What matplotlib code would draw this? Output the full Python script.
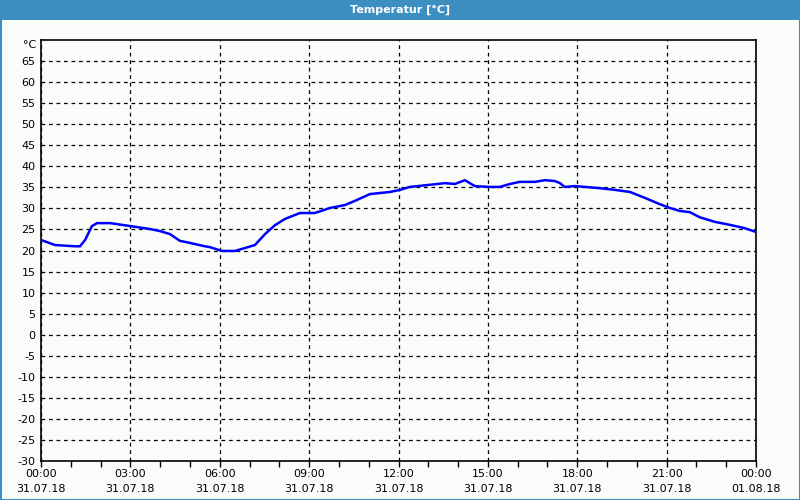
import matplotlib
matplotlib.use("Agg")
import matplotlib.pyplot as plt
from matplotlib.patches import Rectangle

# Data: hours since 31.07.18 00:00, temperature in °C
hours = [0.0, 0.47, 1.14, 1.31, 1.48, 1.71, 1.88, 2.32, 3.0, 3.66, 4.0, 4.33,
         4.66, 5.0, 5.5, 5.67, 6.07, 6.51, 6.85, 7.18, 7.52, 7.85, 8.19, 8.69,
         9.19, 9.70, 10.2, 10.54, 11.04, 11.71, 12.05, 12.38, 13.05, 13.56,
         13.89, 14.23, 14.56, 15.07, 15.40, 15.74, 16.07, 16.58, 16.91, 17.25,
         17.42, 17.58, 17.92, 18.26, 18.76, 19.26, 19.77, 20.27, 20.77, 21.11,
         21.44, 21.78, 22.11, 22.62, 23.12, 23.62, 23.96]
temps = [22.5, 21.3, 21.0, 21.0, 22.5, 25.8, 26.5, 26.5, 25.8, 25.1, 24.6, 23.9,
         22.3, 21.8, 21.0, 20.8, 19.9, 19.9, 20.6, 21.3, 23.9, 26.0, 27.5, 28.9,
         28.9, 30.1, 30.8, 31.8, 33.4, 33.9, 34.4, 35.1, 35.6, 36.0,
         35.8, 36.7, 35.3, 35.1, 35.1, 35.8, 36.3, 36.3, 36.7, 36.5,
         36.0, 35.1, 35.3, 35.1, 34.8, 34.4, 33.9, 32.5, 31.0, 30.1,
         29.4, 29.1, 27.9, 26.8, 26.1, 25.3, 24.5]

x_ticks = [0, 3, 6, 9, 12, 15, 18, 21, 24]
x_labels = ["00:00\n31.07.18", "03:00\n31.07.18", "06:00\n31.07.18",
            "09:00\n31.07.18", "12:00\n31.07.18", "15:00\n31.07.18",
            "18:00\n31.07.18", "21:00\n31.07.18", "00:00\n01.08.18"]
y_ticks = list(range(-30, 70, 5))
title = "Temperatur [°C]"
unit = "°C"

bg = "#fafcfa"
bar = "#3d8fc2"

fig = plt.figure(figsize=(8, 5), dpi=100, facecolor=bg)
W, H = 800, 500

# title bar and frame
fig.patches.append(Rectangle((0, 1 - 20 / H), 1, 20 / H, transform=fig.transFigure,
                             facecolor=bar, edgecolor="none", zorder=0))
fig.patches.append(Rectangle((0.5 / W, 0.5 / H), 1 - 1 / W, 1 - 1 / H,
                             transform=fig.transFigure, facecolor="none",
                             edgecolor=bar, linewidth=1.5, zorder=1))
fig.text(0.5, 1 - 10 / H, title, color="white", fontsize=8, fontweight="bold",
         ha="center", va="center")

left, right, top, bottom = 41, 756, 40, 461
ax = fig.add_axes([left / W, 1 - bottom / H, (right - left) / W, (bottom - top) / H])
ax.set_facecolor(bg)
ax.set_xlim(0, 24)
ax.set_ylim(-30, 70)

ax.plot(hours, temps, color="#0000ff", linewidth=1.8, solid_joinstyle="miter", zorder=3)

ax.set_yticks(y_ticks)
ax.set_yticklabels([str(v) for v in y_ticks], fontsize=8)
ax.set_xticks(x_ticks)
ax.set_xticklabels(x_labels, fontsize=8, linespacing=1.55)
ax.set_xticks(range(0, 25), minor=True)

ax.tick_params(axis="y", length=0, pad=4)
ax.tick_params(axis="x", which="both", direction="out", length=4, width=1, pad=2)
ax.grid(True, which="major", color="black", linestyle=(0, (3, 3)), linewidth=0.9)

for s in ax.spines.values():
    s.set_color("black")
    s.set_linewidth(1.2)

ax.text(-0.15, 68.8, unit, transform=ax.transData, ha="right", va="center", fontsize=8)

fig.savefig("out.png", dpi=100, facecolor=bg)
